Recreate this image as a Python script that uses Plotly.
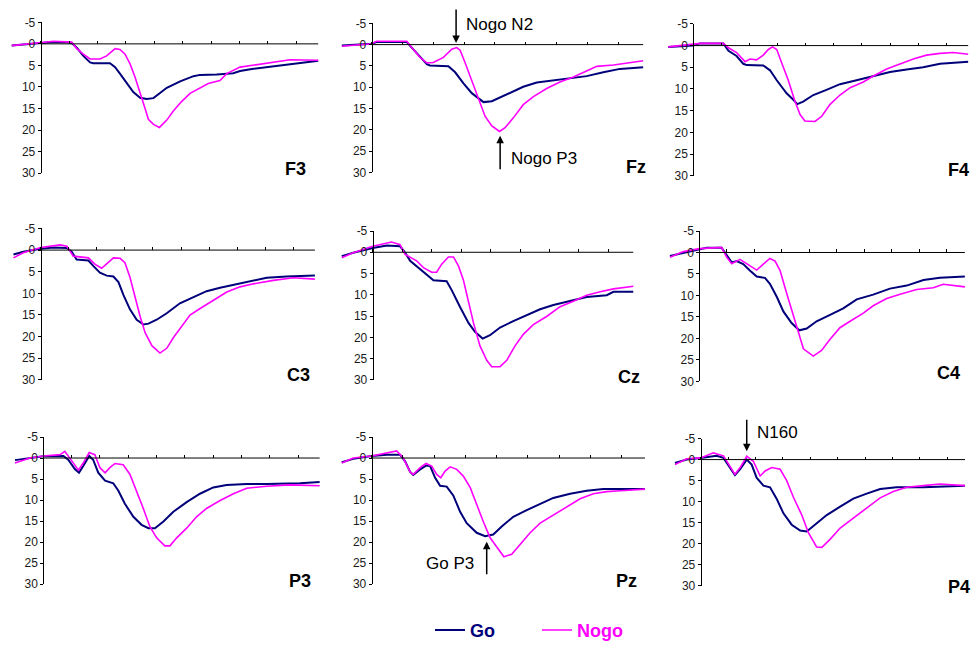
import plotly.graph_objects as go

W, H = 974, 649

PANELS = ["F3", "Fz", "F4", "C3", "Cz", "C4", "P3", "Pz", "P4"]
Y_TICKS = [-5, 0, 5, 10, 15, 20, 25, 30]
Y_TICK_TEXT = ["-5", "0", "5", "10", "15", "20", "25", "30"]
X_TICKS = [0, 100, 200, 300, 400, 500, 600, 700, 800, 900]

# ---- data: time (ms) and amplitude (uV) ----
F3_GO_T = [-102, -49, 0, 33, 92, 109, 127, 150, 174, 185, 244, 262, 279, 303, 326, 350, 373, 397, 420, 444, 491, 538, 561, 620, 678, 702, 749, 796, 854, 913, 978]
F3_GO_V = [0.4, 0.1, -0.1, -0.4, -0.4, -0.2, 0.9, 2.8, 4.3, 4.5, 4.5, 5.4, 6.9, 9.2, 11.2, 12.5, 12.8, 12.6, 11.5, 10.2, 8.7, 7.5, 7.2, 7.1, 6.8, 6.3, 5.8, 5.4, 4.8, 4.3, 3.9]
F3_NOGO_T = [-102, 0, 45, 109, 127, 150, 174, 209, 232, 262, 279, 297, 315, 332, 350, 367, 379, 397, 418, 444, 467, 496, 526, 561, 590, 631, 655, 702, 749, 796, 878, 978]
F3_NOGO_V = [0.4, -0.2, -0.6, -0.4, 1.1, 2.4, 3.5, 3.5, 2.8, 1.1, 1.3, 2.4, 4.7, 7.7, 11.2, 14.9, 17.5, 18.7, 19.4, 17.7, 15.6, 13.4, 11.5, 10.3, 9.2, 8.5, 6.9, 5.4, 4.9, 4.4, 3.7, 3.8]

FZ_GO_T = [-97, 0, 16, 114, 130, 157, 179, 189, 249, 271, 298, 325, 352, 363, 390, 417, 449, 492, 536, 590, 655, 698, 752, 806, 882]
FZ_GO_V = [0.2, -0.2, -0.6, -0.6, 0.7, 3.0, 4.6, 4.9, 5.1, 6.5, 9.1, 11.4, 12.9, 13.5, 13.3, 12.4, 11.2, 9.9, 8.9, 8.4, 7.8, 7.4, 6.5, 5.7, 5.3]
FZ_NOGO_T = [-97, 0, 16, 114, 130, 157, 179, 200, 233, 260, 276, 287, 303, 325, 346, 368, 390, 415, 433, 460, 492, 525, 568, 611, 655, 698, 731, 785, 828, 882]
FZ_NOGO_V = [0.4, -0.2, -0.8, -0.8, 0.7, 3.0, 4.3, 4.2, 3.0, 1.1, 0.7, 1.3, 4.2, 8.4, 12.2, 16.8, 19.1, 20.4, 19.5, 17.2, 14.1, 12.2, 10.3, 8.8, 7.6, 6.1, 5.1, 4.8, 4.3, 3.8]

F4_GO_T = [-89, 0, 24, 107, 125, 154, 178, 190, 249, 273, 297, 332, 356, 370, 391, 427, 474, 522, 581, 641, 700, 759, 818, 878, 937, 979]
F4_GO_V = [0.3, 0.0, -0.5, -0.5, 1.2, 2.4, 4.2, 4.5, 4.6, 5.7, 8.0, 11.0, 12.5, 13.5, 12.9, 11.4, 10.2, 8.9, 8.0, 7.0, 6.1, 5.5, 5.0, 4.2, 4.0, 3.7]
F4_NOGO_T = [-89, 0, 24, 107, 125, 154, 184, 202, 225, 249, 267, 282, 297, 314, 338, 362, 380, 397, 433, 457, 486, 522, 558, 605, 641, 688, 735, 783, 830, 878, 925, 979]
F4_NOGO_V = [0.3, -0.2, -0.5, -0.5, 0.5, 1.6, 3.7, 3.1, 3.3, 2.2, 0.9, 0.3, 0.9, 3.9, 8.0, 12.9, 15.9, 17.4, 17.5, 16.3, 13.6, 11.4, 9.7, 8.4, 7.0, 5.4, 4.2, 3.1, 2.2, 1.8, 1.6, 2.0]

C3_GO_T = [-97, -62, 0, 45, 93, 110, 128, 170, 188, 211, 235, 259, 277, 295, 318, 342, 366, 384, 413, 449, 496, 544, 591, 639, 686, 734, 805, 876, 977]
C3_GO_V = [1.0, 0.4, -0.3, -0.6, -0.5, 0.3, 2.2, 2.4, 3.7, 5.2, 5.9, 6.1, 7.4, 10.4, 13.7, 16.1, 17.2, 17.0, 16.1, 14.6, 12.3, 10.8, 9.5, 8.7, 8.0, 7.3, 6.4, 6.1, 5.9]
C3_NOGO_T = [-97, -62, 0, 69, 93, 116, 170, 194, 217, 235, 259, 283, 300, 318, 336, 354, 372, 396, 425, 449, 473, 502, 532, 568, 615, 663, 710, 758, 829, 900, 977]
C3_NOGO_V = [1.8, 0.6, -0.6, -1.2, -0.9, 1.4, 1.8, 3.3, 4.2, 3.1, 1.8, 1.9, 2.9, 6.3, 10.8, 15.3, 19.1, 22.1, 23.8, 22.7, 20.2, 17.6, 15.0, 13.5, 11.6, 9.7, 8.5, 7.8, 7.0, 6.4, 6.7]

CZ_GO_T = [-105, -66, 0, 48, 93, 110, 127, 161, 195, 206, 251, 268, 296, 325, 347, 373, 398, 432, 477, 523, 568, 613, 670, 726, 794, 817, 885]
CZ_GO_V = [0.9, 0.1, -1.0, -1.6, -1.4, 0.1, 2.0, 4.0, 5.9, 6.6, 6.8, 8.9, 12.8, 16.6, 18.7, 20.3, 19.5, 17.7, 16.2, 14.7, 13.4, 12.4, 11.5, 10.5, 10.1, 9.3, 9.3]
CZ_NOGO_T = [-105, -66, 0, 64, 93, 110, 149, 172, 200, 217, 234, 257, 274, 291, 308, 325, 342, 364, 387, 404, 432, 455, 483, 511, 545, 590, 636, 681, 726, 772, 817, 885]
CZ_NOGO_V = [1.3, 0.1, -1.4, -2.4, -1.8, 0.5, 2.0, 3.6, 4.7, 4.7, 2.8, 1.1, 1.1, 3.2, 6.6, 12.0, 16.6, 22.0, 25.4, 26.9, 26.9, 25.4, 22.0, 19.3, 17.0, 15.1, 12.8, 11.5, 10.1, 9.3, 8.6, 8.0]

C4_GO_T = [-107, -58, 0, 27, 81, 100, 118, 136, 160, 184, 209, 239, 257, 282, 306, 336, 364, 391, 427, 476, 524, 573, 633, 694, 755, 816, 876, 967]
C4_GO_V = [0.8, 0.1, -0.7, -1.1, -1.1, 0.8, 2.3, 2.0, 2.7, 4.2, 5.6, 5.9, 7.3, 10.3, 13.7, 16.4, 18.1, 17.7, 16.0, 14.5, 13.0, 10.9, 9.8, 8.4, 7.7, 6.4, 5.9, 5.6]
C4_NOGO_T = [-107, -58, 0, 81, 100, 118, 148, 184, 209, 233, 257, 276, 294, 318, 342, 360, 379, 415, 445, 476, 512, 549, 597, 633, 682, 731, 791, 852, 888, 967]
C4_NOGO_V = [1.1, -0.2, -0.9, -1.2, 1.1, 2.6, 1.6, 3.1, 4.1, 2.7, 1.4, 2.0, 4.2, 9.5, 14.8, 18.6, 22.4, 24.1, 22.8, 20.2, 17.5, 16.0, 14.1, 12.4, 10.7, 9.7, 8.6, 8.2, 7.4, 8.0]

P3_GO_T = [-100, -47, 0, 71, 88, 112, 126, 141, 162, 176, 194, 218, 247, 265, 288, 318, 347, 371, 394, 424, 459, 506, 553, 600, 647, 718, 788, 906, 976]
P3_GO_V = [0.5, 0.0, -0.4, -0.5, 0.4, 2.7, 3.5, 1.9, -0.5, 0.4, 3.5, 5.4, 6.0, 7.8, 10.9, 14.0, 15.9, 16.7, 16.7, 15.1, 12.8, 10.5, 8.5, 7.0, 6.4, 6.2, 6.2, 6.0, 5.7]
P3_NOGO_T = [-100, -47, 0, 59, 76, 94, 112, 124, 141, 162, 182, 200, 218, 235, 253, 282, 306, 329, 353, 376, 400, 429, 447, 471, 506, 541, 576, 624, 671, 718, 788, 871, 976]
P3_NOGO_V = [1.2, 0.0, -0.5, -0.8, -1.6, 0.2, 1.9, 2.9, 1.2, -1.3, -0.8, 2.3, 3.5, 2.3, 1.3, 1.6, 3.9, 7.8, 12.0, 16.3, 19.0, 20.9, 20.9, 19.0, 16.7, 14.0, 12.0, 10.1, 8.5, 7.2, 6.7, 6.4, 6.6]

PZ_GO_T = [-96, -59, 0, 48, 91, 107, 123, 133, 155, 174, 187, 203, 219, 240, 261, 283, 304, 336, 363, 389, 416, 453, 496, 539, 581, 635, 688, 741, 795, 875]
PZ_GO_V = [1.0, 0.2, -0.5, -0.8, -0.8, 0.8, 3.3, 4.0, 2.7, 1.8, 1.9, 4.7, 6.6, 6.8, 8.9, 12.8, 15.5, 17.8, 18.6, 18.2, 16.3, 14.0, 12.4, 10.9, 9.5, 8.5, 7.8, 7.4, 7.4, 7.4]
PZ_NOGO_T = [-96, -59, 0, 48, 80, 101, 123, 133, 155, 174, 192, 208, 221, 235, 251, 272, 293, 315, 336, 357, 379, 400, 423, 448, 475, 507, 539, 581, 624, 667, 709, 752, 795, 875]
PZ_NOGO_V = [1.2, 0.0, -0.5, -1.2, -1.7, 0.0, 3.3, 3.9, 2.3, 1.3, 1.9, 3.9, 4.7, 3.1, 2.1, 2.7, 4.3, 7.0, 11.2, 15.1, 19.0, 21.3, 23.5, 22.9, 20.5, 17.8, 15.5, 13.6, 11.6, 9.7, 8.5, 8.0, 7.8, 7.4]

P4_GO_T = [-94, -51, 0, 58, 83, 107, 125, 144, 168, 186, 204, 229, 253, 277, 302, 332, 363, 387, 417, 460, 509, 557, 606, 655, 715, 813, 965]
P4_GO_V = [0.8, 0.0, -0.4, -0.9, -0.4, 1.9, 3.7, 2.3, 0.0, 1.2, 4.3, 6.2, 6.6, 9.3, 12.8, 15.5, 16.9, 17.1, 15.5, 13.2, 11.2, 9.3, 8.1, 7.0, 6.6, 6.6, 6.2]
P4_NOGO_T = [-94, -51, 0, 46, 83, 107, 125, 144, 168, 192, 217, 235, 259, 290, 314, 338, 369, 393, 423, 442, 472, 509, 557, 606, 655, 703, 752, 813, 873, 965]
P4_NOGO_V = [1.2, -0.2, -0.4, -1.6, -0.9, 1.6, 3.5, 1.9, -0.8, 0.4, 3.9, 2.7, 1.9, 2.3, 5.0, 8.9, 13.2, 17.4, 20.8, 20.9, 19.0, 16.3, 14.0, 11.6, 9.1, 7.6, 6.6, 6.2, 5.8, 6.2]

DATA = {
    "F3": (F3_GO_T, F3_GO_V, F3_NOGO_T, F3_NOGO_V),
    "Fz": (FZ_GO_T, FZ_GO_V, FZ_NOGO_T, FZ_NOGO_V),
    "F4": (F4_GO_T, F4_GO_V, F4_NOGO_T, F4_NOGO_V),
    "C3": (C3_GO_T, C3_GO_V, C3_NOGO_T, C3_NOGO_V),
    "Cz": (CZ_GO_T, CZ_GO_V, CZ_NOGO_T, CZ_NOGO_V),
    "C4": (C4_GO_T, C4_GO_V, C4_NOGO_T, C4_NOGO_V),
    "P3": (P3_GO_T, P3_GO_V, P3_NOGO_T, P3_NOGO_V),
    "Pz": (PZ_GO_T, PZ_GO_V, PZ_NOGO_T, PZ_NOGO_V),
    "P4": (P4_GO_T, P4_GO_V, P4_NOGO_T, P4_NOGO_V),
}

# ---- layout geometry (pixels): y-axis x position, px per 100 ms, top(-5)/bottom(30), last ms ----
XMIN = -110
GEOM = {
    "F3": dict(ax=40.7, p100=28.4, top=15.7, bot=170.0, xend=978),
    "Fz": dict(ax=371.7, p100=30.8, top=16.7, bot=169.3, xend=882),
    "F4": dict(ax=693.3, p100=28.1, top=17.3, bot=172.7, xend=979),
    "C3": dict(ax=40.7, p100=28.07, top=226.7, bot=381.7, xend=977),
    "Cz": dict(ax=372.7, p100=29.47, top=229.3, bot=381.7, xend=885),
    "C4": dict(ax=699.3, p100=27.47, top=229.3, bot=383.3, xend=967),
    "P3": dict(ax=43.3, p100=28.33, top=440.2, bot=590.7, xend=976),
    "Pz": dict(ax=371.7, p100=31.25, top=440.2, bot=590.7, xend=875),
    "P4": dict(ax=700.7, p100=27.4, top=441.8, bot=592.3, xend=965),
}
# panel label: right edge px, vertical centre px
LABEL_POS = {
    "F3": (308, 166), "Fz": (648, 164), "F4": (971, 167),
    "C3": (312, 377), "Cz": (642, 379), "C4": (962, 375),
    "P3": (313, 588), "Pz": (639, 588), "P4": (972, 594),
}

GO_COLOR = "#00007a"
NOGO_COLOR = "#ff00ff"
FONT = "Arial, Liberation Sans, sans-serif"

fig = go.Figure()
layout = {}
shapes = []
annotations = []

for i, name in enumerate(PANELS, start=1):
    g = GEOM[name]
    sfx = "" if i == 1 else str(i)
    xr, yr = "x" + sfx, "y" + sfx
    go_t, go_v, nogo_t, nogo_v = DATA[name]

    fig.add_trace(go.Scatter(x=go_t, y=go_v, mode="lines", xaxis=xr, yaxis=yr,
                             line=dict(color=GO_COLOR, width=2),
                             name='<span style="color:%s"><b>Go</b></span>' % GO_COLOR,
                             legendgroup="go", showlegend=(i == 1)))
    fig.add_trace(go.Scatter(x=nogo_t, y=nogo_v, mode="lines", xaxis=xr, yaxis=yr,
                             line=dict(color=NOGO_COLOR, width=1.6),
                             name='<span style="color:%s"><b>Nogo</b></span>' % NOGO_COLOR,
                             legendgroup="nogo", showlegend=(i == 1)))

    x0 = g["ax"] + XMIN / 100 * g["p100"]
    x1 = g["ax"] + g["xend"] / 100 * g["p100"]
    ppu = (g["bot"] - g["top"]) / 35.0
    y0px = g["top"] + 5 * ppu

    layout["xaxis" + sfx] = dict(
        domain=[x0 / W, x1 / W], range=[XMIN, g["xend"]], anchor="free",
        position=1 - y0px / H, showline=False, showgrid=False, zeroline=False,
        ticks="inside", ticklen=3, tickwidth=1, tickcolor="black",
        tickvals=[t for t in X_TICKS if t < g["xend"]], showticklabels=False,
        fixedrange=True)
    layout["yaxis" + sfx] = dict(
        domain=[1 - g["bot"] / H, 1 - g["top"] / H], range=[30, -5], anchor="free",
        position=g["ax"] / W, showline=True, linecolor="black", linewidth=1,
        ticks="outside", ticklen=3, tickwidth=1, tickcolor="black",
        tickvals=Y_TICKS, ticktext=Y_TICK_TEXT, showgrid=False, zeroline=False,
        tickfont=dict(family=FONT, size=12, color="#1a1a1a"), fixedrange=True)

    shapes.append(dict(type="line", xref=xr, yref=yr, x0=0, x1=g["xend"], y0=0, y1=0,
                       line=dict(color="black", width=1)))

    lx, ly = LABEL_POS[name]
    annotations.append(dict(text="<b>%s</b>" % name, xref="paper", yref="paper",
                            x=lx / W, y=1 - ly / H, xanchor="right", yanchor="middle",
                            showarrow=False, font=dict(family=FONT, size=18, color="black")))

# component markers: arrows (tip in data coords) and their labels (pixel positions)
def arrow(xr, yr, x, y, ay):
    return dict(text="", xref=xr, yref=yr, x=x, y=y, ax=0, ay=ay, showarrow=True,
                arrowhead=2, arrowsize=1, arrowwidth=1.5, arrowcolor="black", standoff=0)

def label(px, py, text, anchor):
    return dict(text=text, xref="paper", yref="paper", x=px / W, y=1 - py / H,
                showarrow=False, xanchor=anchor, yanchor="middle",
                font=dict(family=FONT, size=17, color="black"))

annotations += [
    arrow("x2", "y2", 274, -0.4, -35), label(464, 18, "Nogo N2", "left"),
    arrow("x2", "y2", 417, 21.4, 35), label(509, 155, "Nogo P3", "left"),
    arrow("x8", "y8", 368, 19.9, 34), label(476, 570, "Go P3", "right"),
    arrow("x9", "y9", 168, -2.0, -33), label(755, 436, "N160", "left"),
]

fig.update_layout(
    width=W, height=H, autosize=False,
    margin=dict(l=0, r=0, t=0, b=0, pad=0),
    paper_bgcolor="white", plot_bgcolor="white",
    shapes=shapes, annotations=annotations,
    showlegend=True,
    legend=dict(orientation="h", x=430 / W, y=1 - 638 / H, xanchor="left", yanchor="middle",
                font=dict(family=FONT, size=18), entrywidth=62, entrywidthmode="pixels",
                bgcolor="rgba(0,0,0,0)", borderwidth=0),
    **layout,
)

fig.write_html("out.html")
